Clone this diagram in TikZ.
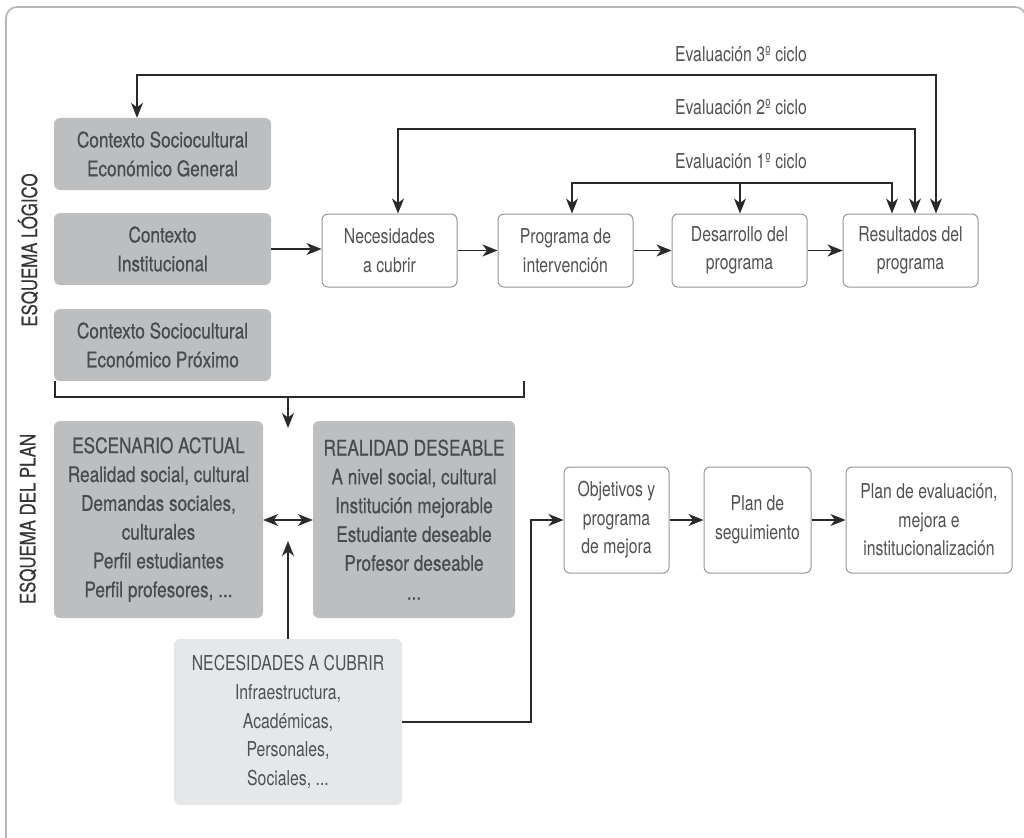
\documentclass[tikz,border=0pt]{standalone}
\usepackage{fontspec}
\setmainfont{TeX Gyre Heros}[FakeStretch=0.80,FakeBold=0.5]
\newfontfamily\lightf{TeX Gyre Heros}[FakeStretch=0.77]
\usetikzlibrary{arrows.meta,calc}

\definecolor{darkfill}{HTML}{BCBEC0}
\definecolor{lightfill}{HTML}{E6E7E8}
\definecolor{boxline}{HTML}{959698}
\definecolor{frameline}{HTML}{B4B5B7}
\definecolor{darktext}{HTML}{4A4B4D}
\definecolor{lighttext}{HTML}{505153}
\definecolor{wire}{HTML}{2A2A2A}

\tikzset{
  darkbox/.style={fill=darkfill, rounded corners=6pt, inner sep=0pt, align=center,
    text=darktext, font=\fontsize{21.5}{28.8}\selectfont},
  palebox/.style={fill=lightfill, rounded corners=6pt, inner sep=0pt, align=center,
    text=lighttext, font=\lightf\fontsize{20.5}{28.8}\selectfont},
  whitebox/.style={draw=boxline, line width=1pt, fill=white, rounded corners=6pt,
    inner sep=0pt, align=center, text=lighttext, font=\lightf\fontsize{20.5}{28.5}\selectfont},
  sidelabel/.style={rotate=90, text=darktext!70!black, font=\fontsize{21}{24}\selectfont},
  cyclelabel/.style={text=lighttext, font=\lightf\fontsize{20.5}{24}\selectfont},
  wireline/.style={draw=wire, line width=1.3pt},
  arr/.style={wireline, -{Stealth[length=15pt,width=12pt,inset=4.5pt]}},
  darr/.style={wireline, {Stealth[length=15pt,width=12pt,inset=4.5pt]}-{Stealth[length=15pt,width=12pt,inset=4.5pt]}}
}

\begin{document}
\begin{tikzpicture}[x=1pt,y=-1pt]
\useasboundingbox (0,0) rectangle (1024,837);

% outer frame, open at the bottom and right edges of the page
\begin{scope}
  \clip (0,0) rectangle (1024,837);
  \draw[frameline, line width=1.6pt, rounded corners=11pt] (6,860) -- (6,7) -- (1026,7) -- (1026,860);
\end{scope}

% side labels
\node[sidelabel] (lblLogico) at (28,250) {ESQUEMA LÓGICO};
\node[sidelabel] (lblPlan) at (28,519) {ESQUEMA DEL PLAN};

% context boxes
\node[darkbox, minimum width=217pt, minimum height=72pt] (ctxG) at (162.5,154)
  {Contexto Sociocultural\\Económico General};
\node[darkbox, minimum width=217pt, minimum height=72pt] (ctxI) at (162.5,249)
  {Contexto\\Institucional};
\node[darkbox, minimum width=217pt, minimum height=72pt] (ctxP) at (162.5,345)
  {Contexto Sociocultural\\Económico Próximo};

% logical chain
\node[whitebox, minimum width=135pt, minimum height=73pt] (nec) at (389.5,250.5)
  {Necesidades\\a cubrir};
\node[whitebox, minimum width=135pt, minimum height=73pt] (prog) at (565.5,250.5)
  {Programa de\\intervención};
\node[whitebox, minimum width=135pt, minimum height=73pt] (des) at (739.5,250.5)
  {Desarrollo del\\programa};
\node[whitebox, minimum width=135pt, minimum height=73pt] (res) at (910.5,250.5)
  {Resultados del\\programa};

% plan boxes
\node[darkbox, minimum width=209pt, minimum height=197pt] (esc) at (158.5,519.5)
  {ESCENARIO ACTUAL\\Realidad social, cultural\\Demandas sociales,\\culturales\\Perfil estudiantes\\Perfil profesores, ...};
\node[darkbox, minimum width=202pt, minimum height=197pt] (real) at (414,519.5)
  {REALIDAD DESEABLE\\A nivel social, cultural\\Institución mejorable\\Estudiante deseable\\Profesor deseable\\...};
\node[palebox, minimum width=228pt, minimum height=166pt] (necb) at (288,722)
  {NECESIDADES A CUBRIR\\Infraestructura,\\Académicas,\\Personales,\\Sociales, ...};

\node[whitebox, minimum width=105pt, minimum height=106pt] (obj) at (616.5,520)
  {Objetivos y\\programa\\de mejora};
\node[whitebox, minimum width=107pt, minimum height=106pt] (seg) at (757.5,520)
  {Plan de\\seguimiento};
\node[whitebox, minimum width=166pt, minimum height=106pt] (eval) at (929,520)
  {Plan de evaluación,\\mejora e\\institucionalización};

% evaluation cycles
\coordinate (e3L) at (137,75);
\coordinate (e3R) at (936,75);
\coordinate (e2L) at (398,129);
\coordinate (e2R) at (915,129);
\coordinate (e1L) at (572,183);
\coordinate (e1M) at (740,183);
\coordinate (e1R) at (892,183);

\node[cyclelabel] (c3) at (741,54) {Evaluación 3º ciclo};
\node[cyclelabel] (c2) at (741,107) {Evaluación 2º ciclo};
\node[cyclelabel] (c1) at (741,161) {Evaluación 1º ciclo};

\draw[darr] (ctxG.north -| e3L) |- (e3R) -- (e3R |- res.north);
\draw[darr] (nec.north -| e2L) |- (e2R) -- (e2R |- res.north);
\draw[darr] (prog.north -| e1L) |- (e1R) -- (e1R |- res.north);
\draw[arr] (e1M) -- (e1M |- des.north);

% horizontal chain
\draw[arr] (ctxI.east) -- (ctxI.east -| nec.west);
\draw[arr] (nec) -- (prog);
\draw[arr] (prog) -- (des);
\draw[arr] (des) -- (res);

% bracket from the context boxes down to the plan
\coordinate (brL) at (55,397);
\coordinate (brR) at (524,397);
\coordinate (brM) at (288,397);
\coordinate (brTip) at (288,428);
\draw[wireline] (brL |- ctxP.south) -- (brL) -- (brR) -- (brR |- ctxP.south);
\draw[arr] (brM) -- (brTip);

% plan connectors
\draw[darr] (esc.east |- 0,520) -- (real.west |- 0,520);
\coordinate (upTip) at (288,541);
\draw[arr] (necb.north) -- (upTip);
\coordinate (jog) at (531,520);
\draw[arr] (necb.east) -| (jog) -- (obj.west);
\draw[arr] (obj) -- (seg);
\draw[arr] (seg) -- (eval);
\end{tikzpicture}
\end{document}
